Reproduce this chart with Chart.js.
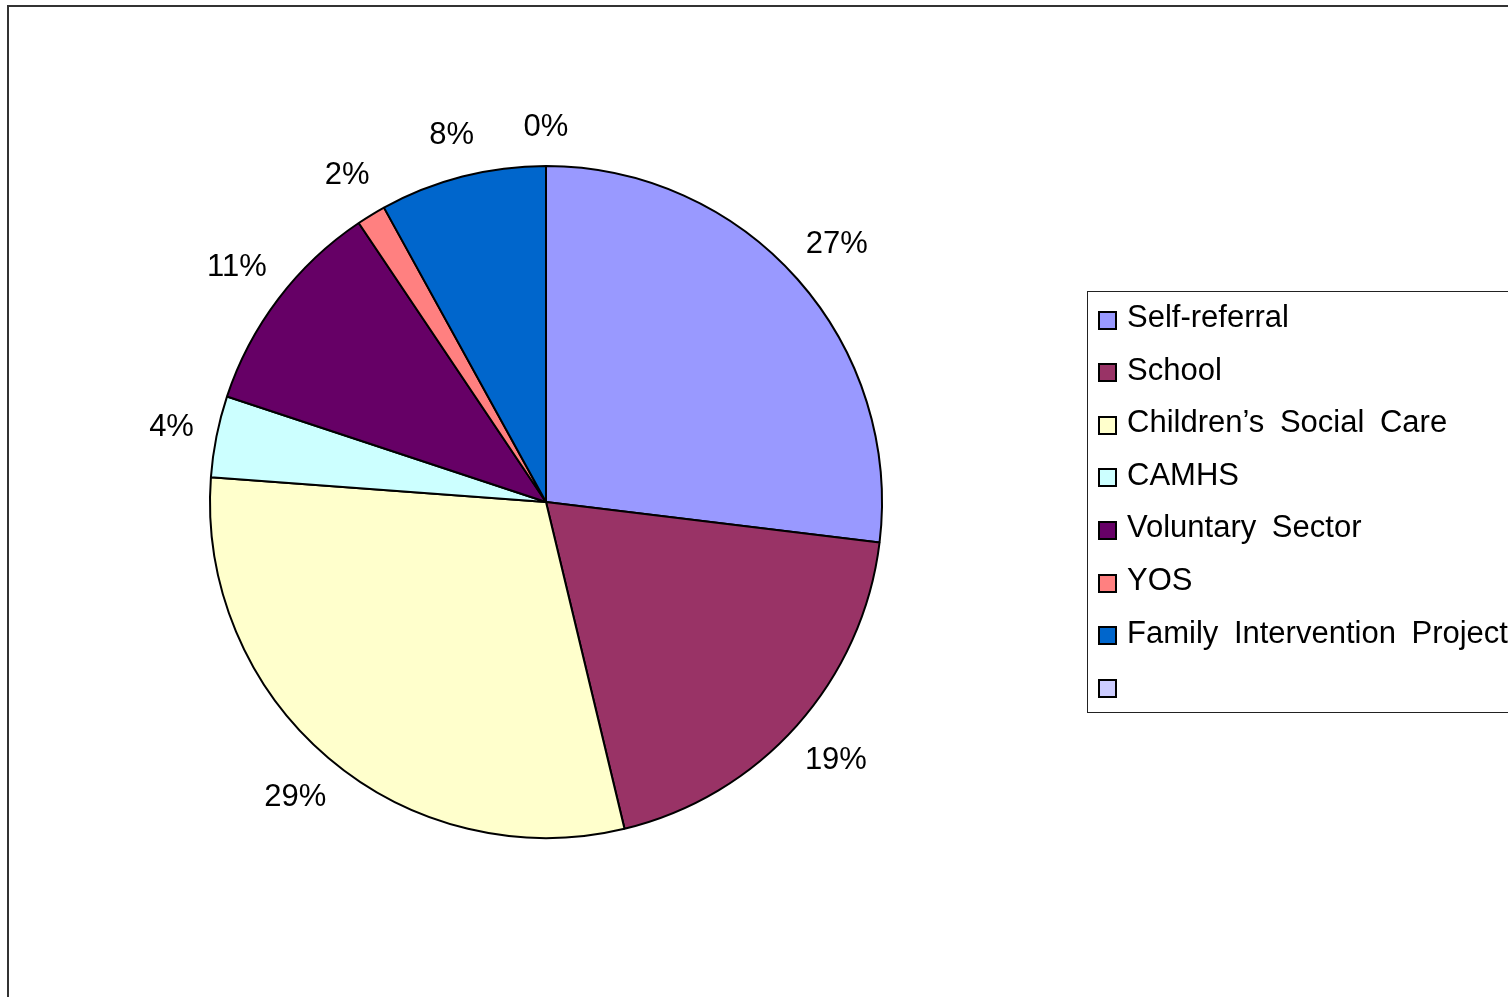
<!DOCTYPE html>
<html>
<head>
<meta charset="utf-8">
<script src="https://cdn.jsdelivr.net/npm/chart.js@4.4.0/dist/chart.umd.min.js"></script>
<style>
  html, body { margin: 0; padding: 0; width: 1508px; height: 997px; overflow: hidden; background: #fff; }
  #frame { position: absolute; left: 7px; top: 5px; width: 1600px; height: 1100px; border: 2px solid #333; box-sizing: border-box; }
  #chart { position: absolute; left: 0; top: 0; }
  #legend { position: absolute; left: 1087px; top: 291px; width: 500px; height: 422px; border: 1px solid #222;
            box-sizing: border-box; font-family: "Liberation Sans", Arial, sans-serif; font-size: 31px; color: #000; }
  .item { position: absolute; left: 10px; height: 40px; display: flex; align-items: center; white-space: nowrap; word-spacing: 7px; }
  .swatch { width: 15px; height: 15px; border: 2px solid #000; margin-right: 10px; flex: none; }
  .item span { position: relative; top: -3px; }
</style>
</head>
<body>
<div id="frame"></div>
<canvas id="chart" width="1508" height="997"></canvas>
<div id="legend"></div>
<script>
// referral sources, clockwise from 12 o'clock
const categories = ['Self-referral', 'School', 'Children\u2019s Social Care', 'CAMHS',
                    'Voluntary Sector', 'YOS', 'Family Intervention Project', ''];
const shares = [26.9, 19.3, 29.9, 3.9, 10.5, 1.4, 8.0, 0];
const pctLabels = ['27%', '19%', '29%', '4%', '11%', '2%', '8%', '0%'];
const colors = ['#9999FF', '#993366', '#FFFFCC', '#CCFFFF', '#660066', '#FF8080', '#0066CC', '#CCCCFF'];

const FONT = '"Liberation Sans", Arial, sans-serif';

// percent labels sitting just outside the pie
const outsideLabels = {
  id: 'outsideLabels',
  afterDatasetsDraw(chart) {
    const ctx = chart.ctx;
    const meta = chart.getDatasetMeta(0);
    ctx.save();
    ctx.font = '31px ' + FONT;
    ctx.fillStyle = '#000';
    ctx.textAlign = 'center';
    ctx.textBaseline = 'middle';
    meta.data.forEach((arc, i) => {
      const p = arc.getProps(['x', 'y', 'startAngle', 'endAngle', 'outerRadius'], true);
      const mid = (p.startAngle + p.endAngle) / 2;
      const dx = Math.cos(mid), dy = Math.sin(mid);
      const w = ctx.measureText(pctLabels[i]).width;
      const h = 24;
      const d = p.outerRadius + 27 + Math.abs(dx) * w / 2 * 0.75 + Math.abs(dy) * h / 2;
      ctx.fillText(pctLabels[i], p.x + dx * d, p.y + dy * d);
    });
    ctx.restore();
  }
};

new Chart(document.getElementById('chart'), {
  type: 'pie',
  data: {
    labels: categories,
    datasets: [{
      data: shares,
      backgroundColor: colors,
      borderColor: '#000',
      borderWidth: 2
    }]
  },
  options: {
    responsive: false,
    animation: false,
    layout: { padding: { left: 209, right: 625, top: 165, bottom: 158 } },
    plugins: {
      legend: { display: false },
      tooltip: { enabled: false }
    }
  },
  plugins: [outsideLabels]
});

// legend box
const legend = document.getElementById('legend');
categories.forEach((name, i) => {
  const row = document.createElement('div');
  row.className = 'item';
  row.style.top = (8 + i * 52.6) + 'px';
  const sw = document.createElement('div');
  sw.className = 'swatch';
  sw.style.background = colors[i];
  const txt = document.createElement('span');
  txt.textContent = name;
  row.appendChild(sw);
  row.appendChild(txt);
  legend.appendChild(row);
});
</script>
</body>
</html>
